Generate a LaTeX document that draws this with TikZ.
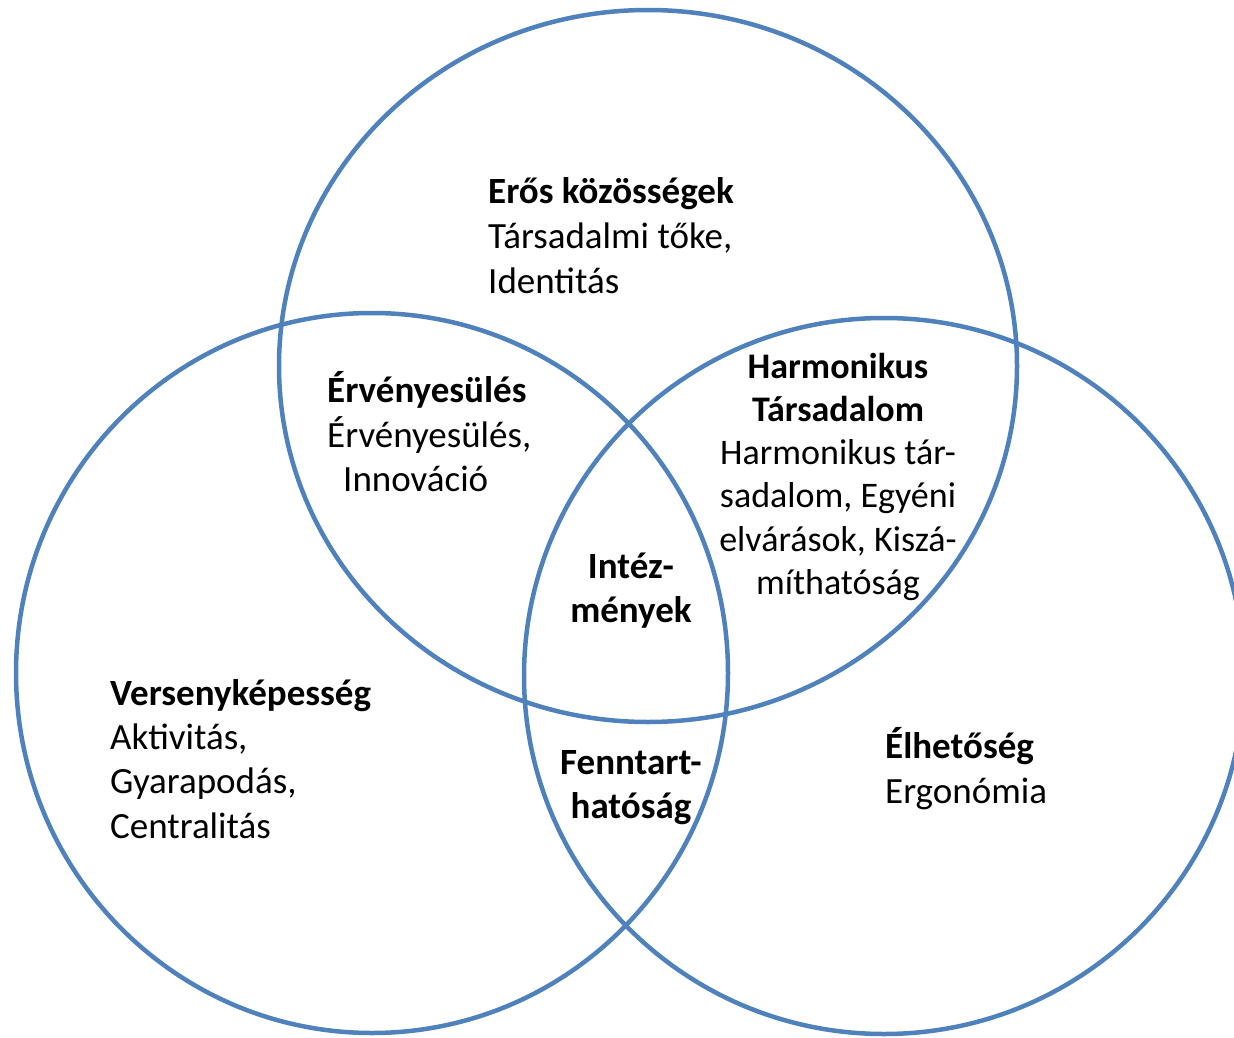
\documentclass[tikz,border=0pt]{standalone}
\usepackage{fontspec}
\setmainfont{Carlito}
\definecolor{ringblue}{HTML}{4F81BD}
\begin{document}
\begin{tikzpicture}[x=1pt,y=-1pt,
  ring/.style={draw=ringblue, line width=4.5pt},
  txt/.style={inner sep=0pt, font=\fontsize{37}{44}\selectfont},
  bt/.style={txt, font=\fontsize{37}{44}\selectfont\bfseries},
  stxt/.style={inner sep=0pt, font=\fontsize{36}{44}\selectfont},
  sbt/.style={stxt, font=\fontsize{36}{44}\selectfont\bfseries}]
\useasboundingbox (0,0) rectangle (1234,1038);
\draw[ring] (648,366) ellipse [x radius=369pt, y radius=356pt];
\draw[ring] (372,673) ellipse [x radius=356pt, y radius=360pt];
\draw[ring] (884,676) ellipse [x radius=360pt, y radius=358pt];
% top
\node[bt, anchor=base west] (t1) at (488,203) {Erős közösségek};
\node[txt, anchor=base west] (t2) at (488,248) {Társadalmi tőke,};
\node[txt, anchor=base west] (t3) at (488,293) {Identitás};
% top-left
\node[bt, anchor=base west] (e1) at (327,402) {Érvényesülés};
\node[txt, anchor=base west] (e2) at (327,447) {Érvényesülés,};
\node[txt, anchor=base west] (e3) at (343,491) {Innováció};
% top-right
\node[sbt, anchor=base] (h1) at (838,378) {Harmonikus};
\node[sbt, anchor=base] (h2) at (838,421) {Társadalom};
\node[stxt, anchor=base] (h3) at (838,464) {Harmonikus tár-};
\node[stxt, anchor=base] (h4) at (838,507) {sadalom, Egyéni};
\node[stxt, anchor=base] (h5) at (838,551) {elvárások, Kiszá-};
\node[stxt, anchor=base] (h6) at (838,594) {míthatóság};
% centre
\node[bt, anchor=base] (i1) at (631,578) {Intéz-};
\node[bt, anchor=base] (i2) at (631,622) {mények};
% left
\node[bt, anchor=base west] (v1) at (110,705) {Versenyképesség};
\node[txt, anchor=base west] (v2) at (110,749) {Aktivitás,};
\node[txt, anchor=base west] (v3) at (110,793) {Gyarapodás,};
\node[txt, anchor=base west] (v4) at (110,838) {Centralitás};
% bottom centre
\node[bt, anchor=base] (f1) at (631,774) {Fenntart-};
\node[bt, anchor=base] (f2) at (631,818) {hatóság};
% right
\node[bt, anchor=base west] (l1) at (885,758) {Élhetőség};
\node[txt, anchor=base west] (l2) at (885,803) {Ergonómia};
\end{tikzpicture}
\end{document}
